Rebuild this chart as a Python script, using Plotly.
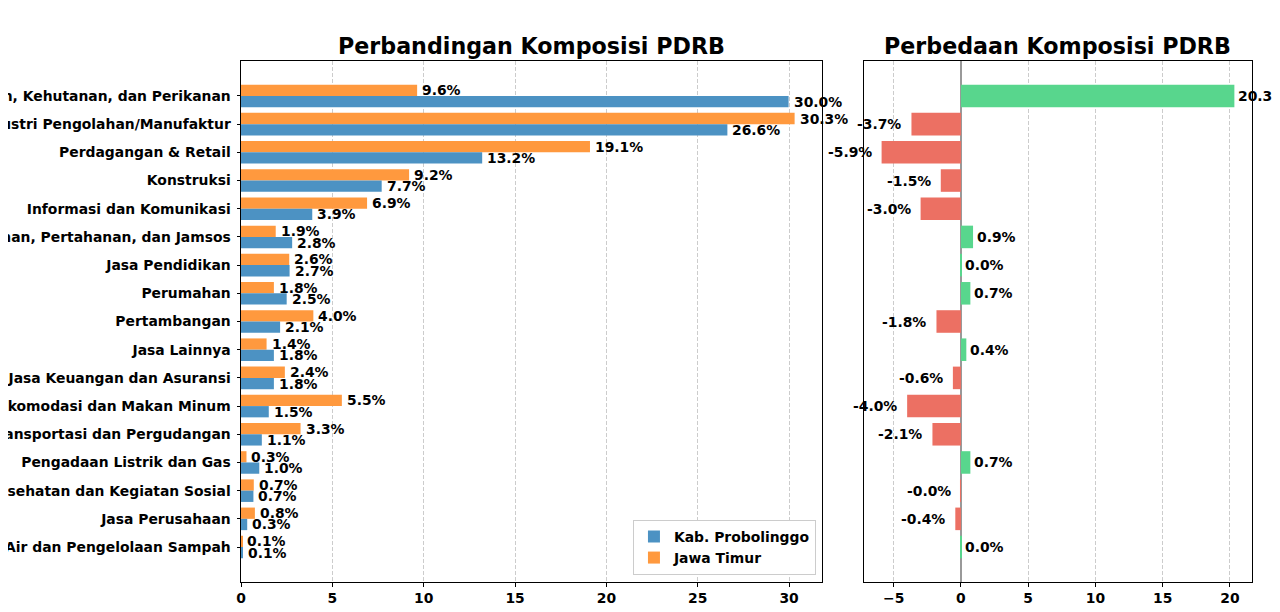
import plotly.graph_objects as go
from plotly.subplots import make_subplots

sektor = [
    "Pertanian, Kehutanan, dan Perikanan",
    "Industri Pengolahan/Manufaktur",
    "Perdagangan & Retail",
    "Konstruksi",
    "Informasi dan Komunikasi",
    "Administrasi Pemerintahan, Pertahanan, dan Jamsos",
    "Jasa Pendidikan",
    "Perumahan",
    "Pertambangan",
    "Jasa Lainnya",
    "Jasa Keuangan dan Asuransi",
    "Penyediaan Akomodasi dan Makan Minum",
    "Transportasi dan Pergudangan",
    "Pengadaan Listrik dan Gas",
    "Jasa Kesehatan dan Kegiatan Sosial",
    "Jasa Perusahaan",
    "Pengadaan Air dan Pengelolaan Sampah",
]
kab_probolinggo = [29.97, 26.62, 13.20, 7.70, 3.90, 2.80, 2.66, 2.50, 2.14,
                   1.80, 1.80, 1.52, 1.14, 1.00, 0.68, 0.34, 0.10]
jawa_timur = [9.64, 30.30, 19.10, 9.20, 6.90, 1.90, 2.64, 1.80, 3.96,
              1.40, 2.40, 5.52, 3.26, 0.30, 0.70, 0.76, 0.08]

selisih = [k - j for k, j in zip(kab_probolinggo, jawa_timur)]
warna_selisih = ["#58d68d" if s >= 0 else "#ec7063" for s in selisih]

FONT = "DejaVu Sans"
fnt = dict(family=FONT, size=13.9, color="black", weight="bold")

fig = make_subplots(rows=1, cols=2, column_widths=[0.6, 0.4],
                    horizontal_spacing=0.04)

# urutan trace: Jawa Timur dulu supaya batangnya di atas
fig.add_trace(go.Bar(
    y=sektor, x=jawa_timur, orientation="h", name="Jawa Timur",
    marker=dict(color="#ff993e", line=dict(width=0)),
), row=1, col=1)
fig.add_trace(go.Bar(
    y=sektor, x=kab_probolinggo, orientation="h", name="Kab. Probolinggo",
    marker=dict(color="#4c92c3", line=dict(width=0)),
), row=1, col=1)
fig.add_trace(go.Bar(
    y=sektor, x=selisih, orientation="h", showlegend=False,
    marker=dict(color=warna_selisih, line=dict(width=0)),
), row=1, col=2)

# label nilai
for i, (k, j) in enumerate(zip(kab_probolinggo, jawa_timur)):
    fig.add_annotation(x=j, y=i - 0.2, xref="x", yref="y", text=f"{j:.1f}%",
                       xanchor="left", yanchor="middle", xshift=3,
                       showarrow=False, font=fnt)
    fig.add_annotation(x=k, y=i + 0.2, xref="x", yref="y", text=f"{k:.1f}%",
                       xanchor="left", yanchor="middle", xshift=3,
                       showarrow=False, font=fnt)
for i, s in enumerate(selisih):
    fig.add_annotation(x=s, y=i, xref="x2", yref="y2", text=f"{s:.1f}%",
                       xanchor="left" if s >= 0 else "right", yanchor="middle",
                       xshift=2 if s >= 0 else -8,
                       showarrow=False, font=fnt)

axis_style = dict(showline=True, mirror=True, linecolor="black", linewidth=1,
                  ticks="outside", ticklen=3.5, tickwidth=0.8, tickcolor="black",
                  tickfont=fnt, automargin=False)
grid_style = dict(showgrid=True, gridcolor="#cccccc", gridwidth=1,
                  griddash="4px,2px")

fig.update_xaxes(**axis_style, **grid_style)
fig.update_xaxes(range=[0, 31.8], dtick=5, zeroline=False,
                 domain=[0, 0.5747], row=1, col=1)
fig.update_xaxes(range=[-7.21, 21.64], dtick=5, zeroline=True,
                 zerolinecolor="#999999", zerolinewidth=1.5,
                 domain=[0.6162, 1], row=1, col=2)

fig.update_yaxes(showline=True, mirror=True, linecolor="black", linewidth=1,
                 showgrid=False, range=[17.24, -1.24], automargin=False)
fig.update_yaxes(ticks="outside", ticklen=3.5, tickwidth=0.8, tickcolor="black",
                 tickfont=fnt, ticklabelstandoff=3, row=1, col=1)
fig.update_yaxes(showticklabels=False, ticks="", row=1, col=2)

judul = dict(family=FONT, size=22.2, color="black", weight="bold")
fig.add_annotation(text="Perbandingan Komposisi PDRB", xref="paper", yref="paper",
                   x=0.5747 / 2, y=1.0288, xanchor="center", yanchor="middle",
                   showarrow=False, font=judul)
fig.add_annotation(text="Perbedaan Komposisi PDRB", xref="paper", yref="paper",
                   x=(0.6162 + 1) / 2, y=1.0288, xanchor="center", yanchor="middle",
                   showarrow=False, font=judul)

# halaman browser punya margin body ~8px, jadi ukuran figur dikurangi 8px
fig.update_layout(
    width=1272, height=604,
    margin=dict(l=233, r=28, t=53, b=30, autoexpand=False),
    barmode="group", bargap=0.2, bargroupgap=0,
    plot_bgcolor="white", paper_bgcolor="white",
    font=fnt,
    legend=dict(x=0.5687, y=0.0135, xanchor="right", yanchor="bottom",
                traceorder="reversed", bgcolor="white", bordercolor="#cccccc",
                borderwidth=1, font=fnt, tracegroupgap=0),
)

fig.write_html("out.html")
